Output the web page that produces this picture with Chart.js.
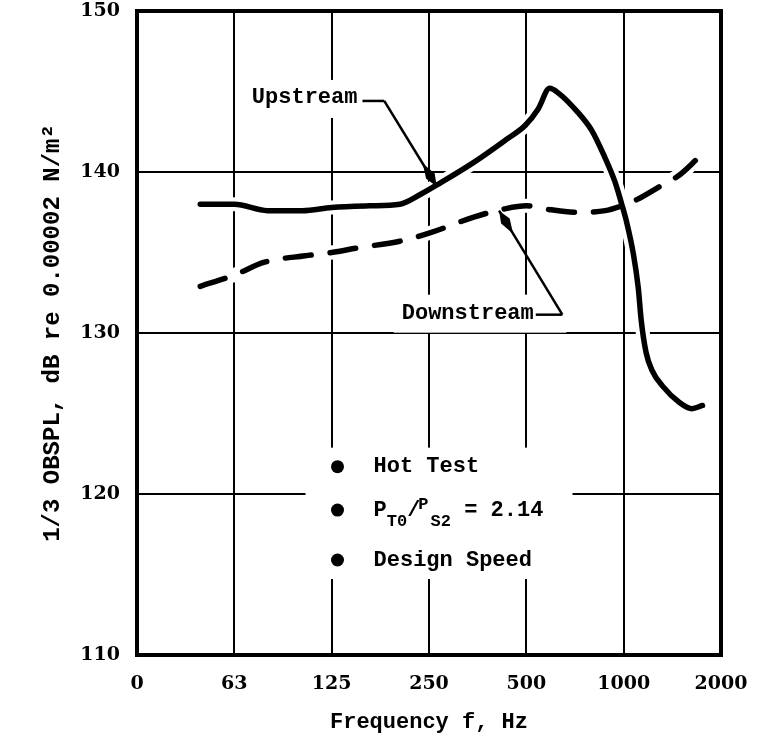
<!DOCTYPE html>
<html><head><meta charset="utf-8">
<script src="https://cdn.jsdelivr.net/npm/chart.js@4.4.1/dist/chart.umd.min.js"></script>
<style>html,body{margin:0;padding:0;background:#fff;}#wrap{width:761px;height:737px;}</style>
</head><body><div id="wrap"><canvas id="c" width="761" height="737"></canvas></div>
<script>
// Octave-band positions: 0 = left edge, 1 = 63 Hz, 2 = 125 Hz, ... 6 = 2000 Hz
const xTickLabels = ['0', '63', '125', '250', '500', '1000', '2000'];
const yMin = 110, yMax = 150, yStep = 10;

const upstreamX = [0.65,1.00,1.34,1.70,2.00,2.39,2.70,2.91,3.11,3.46,3.79,3.99,4.12,4.24,4.33,4.53,4.67,4.80,4.91,4.98,5.03,5.10,5.15,5.18,5.23,5.29,5.40,5.57,5.70,5.81];
const upstreamY = [138.0,138.0,137.6,137.6,137.8,137.9,138.0,138.6,139.3,140.6,142.0,142.9,143.9,145.2,144.9,143.7,142.6,141.0,139.4,138.0,136.9,134.9,132.8,130.8,128.8,127.7,126.7,125.7,125.3,125.5];

const downstreamX = [0.65,1.00,1.31,1.73,2.00,2.28,2.70,3.00,3.46,3.77,4.00,4.20,4.53,4.81,4.98,5.14,5.37,5.57,5.77];
const downstreamY = [132.9,133.6,134.4,134.8,135.0,135.3,135.7,136.2,137.2,137.7,137.9,137.7,137.5,137.6,137.9,138.3,139.1,139.8,140.9];

const seriesNames = ['Upstream', 'Downstream'];
const noteLines = ['Hot Test', 'P_T0/P_S2 = 2.14', 'Design Speed'];

// annotation anchors in data units
const upLabelPos = {x: 1.18, y: 144.6, dashEnd: 2.54, tipX: 3.08, tipY: 139.1};
const downLabelPos = {x: 2.72, y: 131.2, dashEnd: 4.37, tipX: 3.72, tipY: 137.6};
const notePos = {bulletX: 2.06, textX: 2.43, rows: [121.7, 119.0, 115.9]};

const pts = (xs, ys) => xs.map((x, i) => ({x, y: ys[i]}));

const MONO = '"Liberation Mono", "DejaVu Sans Mono", monospace';
const labelFont = 'bold 22px ' + MONO;

function arrow(ctx, x0, y0, x1, y1) {
  ctx.beginPath(); ctx.moveTo(x0, y0); ctx.lineTo(x1, y1); ctx.stroke();
  const ang = Math.atan2(y1 - y0, x1 - x0);
  const L = 27, W = 5;
  const bx = x1 - Math.cos(ang) * L, by = y1 - Math.sin(ang) * L;
  const mx = x1 - Math.cos(ang) * L * 0.45, my = y1 - Math.sin(ang) * L * 0.45;
  const px = -Math.sin(ang), py = Math.cos(ang);
  ctx.beginPath();
  ctx.moveTo(x1, y1);
  ctx.lineTo(mx + px * W, my + py * W);
  ctx.lineTo(bx, by);
  ctx.lineTo(mx - px * W, my - py * W);
  ctx.closePath(); ctx.fill();
}

const annot = {
  id: 'annot',
  beforeDatasetsDraw(chart) {
    const {ctx, scales: {x, y}} = chart;
    ctx.save();
    ctx.fillStyle = '#fff';
    ctx.font = labelFont;
    let lx = x.getPixelForValue(upLabelPos.x), ly = y.getPixelForValue(upLabelPos.y);
    ctx.fillRect(lx - 8, ly - 18, x.getPixelForValue(upLabelPos.dashEnd) - lx + 14, 38);
    lx = x.getPixelForValue(downLabelPos.x); ly = y.getPixelForValue(downLabelPos.y);
    ctx.fillRect(lx - 8, ly - 19, x.getPixelForValue(downLabelPos.dashEnd) - lx + 12, 38);
    const nx0 = x.getPixelForValue(notePos.bulletX) - 32;
    const ny0 = y.getPixelForValue(notePos.rows[0]) - 19;
    const ny1 = y.getPixelForValue(notePos.rows[2]) + 19;
    ctx.fillRect(nx0, ny0, 267, ny1 - ny0);
    ctx.restore();
  },
  afterDatasetsDraw(chart) {
    const {ctx, chartArea: a, scales: {x, y}} = chart;
    ctx.save();
    ctx.strokeStyle = '#000'; ctx.lineWidth = 4;
    ctx.strokeRect(a.left, a.top, a.right - a.left, a.bottom - a.top);
    ctx.fillStyle = '#000';
    ctx.font = labelFont;
    ctx.textBaseline = 'middle';
    ctx.lineWidth = 2.5;
    let lx = x.getPixelForValue(upLabelPos.x), ly = y.getPixelForValue(upLabelPos.y);
    ctx.fillText(seriesNames[0], lx, ly);
    let w = ctx.measureText(seriesNames[0]).width;
    let dx = x.getPixelForValue(upLabelPos.dashEnd);
    ctx.beginPath(); ctx.moveTo(lx + w + 5, ly + 3); ctx.lineTo(dx, ly + 3); ctx.stroke();
    arrow(ctx, dx, ly + 3, x.getPixelForValue(upLabelPos.tipX), y.getPixelForValue(upLabelPos.tipY));
    lx = x.getPixelForValue(downLabelPos.x); ly = y.getPixelForValue(downLabelPos.y);
    ctx.fillText(seriesNames[1], lx, ly);
    w = ctx.measureText(seriesNames[1]).width;
    dx = x.getPixelForValue(downLabelPos.dashEnd);
    ctx.beginPath(); ctx.moveTo(lx + w + 2, ly + 1); ctx.lineTo(dx, ly + 1); ctx.stroke();
    arrow(ctx, dx, ly + 1, x.getPixelForValue(downLabelPos.tipX), y.getPixelForValue(downLabelPos.tipY));
    const bx = x.getPixelForValue(notePos.bulletX), tx = x.getPixelForValue(notePos.textX);
    notePos.rows.forEach((rv, i) => {
      const ry = y.getPixelForValue(rv);
      ctx.beginPath(); ctx.arc(bx, ry, 6.5, 0, Math.PI * 2); ctx.fill();
      if (i !== 1) {
        ctx.font = labelFont; ctx.fillText(noteLines[i], tx, ry);
      } else {
        const m = noteLines[1].match(/^(\w)_(\w+)\/(\w)_(\w+)(.*)$/);
        let cx = tx;
        const big = labelFont, small = 'bold 17px ' + MONO;
        ctx.font = big; ctx.fillText(m[1], cx, ry); cx += ctx.measureText(m[1]).width;
        ctx.font = small; ctx.fillText(m[2], cx, ry + 12); cx += ctx.measureText(m[2]).width;
        ctx.font = big; ctx.fillText('/', cx, ry); cx += ctx.measureText('/').width - 2;
        ctx.font = small; ctx.fillText(m[3], cx, ry - 5); cx += ctx.measureText(m[3]).width + 2;
        ctx.fillText(m[4], cx, ry + 12); cx += ctx.measureText(m[4]).width;
        ctx.font = big; ctx.fillText(m[5], cx, ry);
      }
    });
    ctx.restore();
  }
};

const lineDS = (label, xs, ys, opts) => Object.assign({
  label, data: pts(xs, ys), borderColor: '#000', backgroundColor: '#000',
  borderWidth: 5.5, pointRadius: 0, fill: false, cubicInterpolationMode: 'monotone',
  borderCapStyle: 'round', borderJoinStyle: 'round'
}, opts);

new Chart(document.getElementById('c'), {
  type: 'line',
  data: {
    datasets: [
      lineDS('halo-up', upstreamX, upstreamY, {borderColor: '#fff', borderWidth: 14, order: 3}),
      lineDS('halo-down', downstreamX, downstreamY, {borderColor: '#fff', borderWidth: 14, order: 3}),
      lineDS(seriesNames[0], upstreamX, upstreamY, {order: 1}),
      lineDS(seriesNames[1], downstreamX, downstreamY, {order: 1, borderDash: [26, 19], borderCapStyle: 'round'})
    ]
  },
  options: {
    responsive: false, animation: false, devicePixelRatio: 1,
    layout: {padding: {top: 11, right: 40, left: 0, bottom: 0}},
    plugins: {legend: {display: false}, tooltip: {enabled: false}},
    scales: {
      x: {
        type: 'linear', min: 0, max: xTickLabels.length - 1,
        afterBuildTicks: s => { s.ticks = xTickLabels.map((_, i) => ({value: i})); },
        afterFit: s => { s.height = 82; s.paddingLeft = 0; s.paddingRight = 0; },
        ticks: {callback: v => xTickLabels[v], color: '#000', autoSkip: false, maxRotation: 0,
                font: {family: '"DejaVu Serif", serif', weight: 'bold', size: 19}, padding: 18},
        grid: {color: '#000', lineWidth: 2, drawTicks: false},
        border: {color: '#000', width: 4},
        title: {display: true, text: 'Frequency f, Hz', color: '#000',
                font: {family: MONO, weight: 'bold', size: 22}, padding: {top: 0, bottom: 1}}
      },
      y: {
        min: yMin, max: yMax,
        afterFit: s => { s.width = 137; s.paddingTop = 0; s.paddingBottom = 0; },
        ticks: {stepSize: yStep, color: '#000', font: {family: '"DejaVu Serif", serif', weight: 'bold', size: 19}, padding: 17},
        grid: {color: '#000', lineWidth: 2, drawTicks: false},
        border: {color: '#000', width: 4},
        title: {display: true, text: '1/3 OBSPL, dB re 0.00002 N/m²', color: '#000',
                font: {family: MONO, weight: 'bold', size: 24}, padding: {top: 39, bottom: 0}}
      }
    }
  },
  plugins: [annot]
});
</script></body></html>
